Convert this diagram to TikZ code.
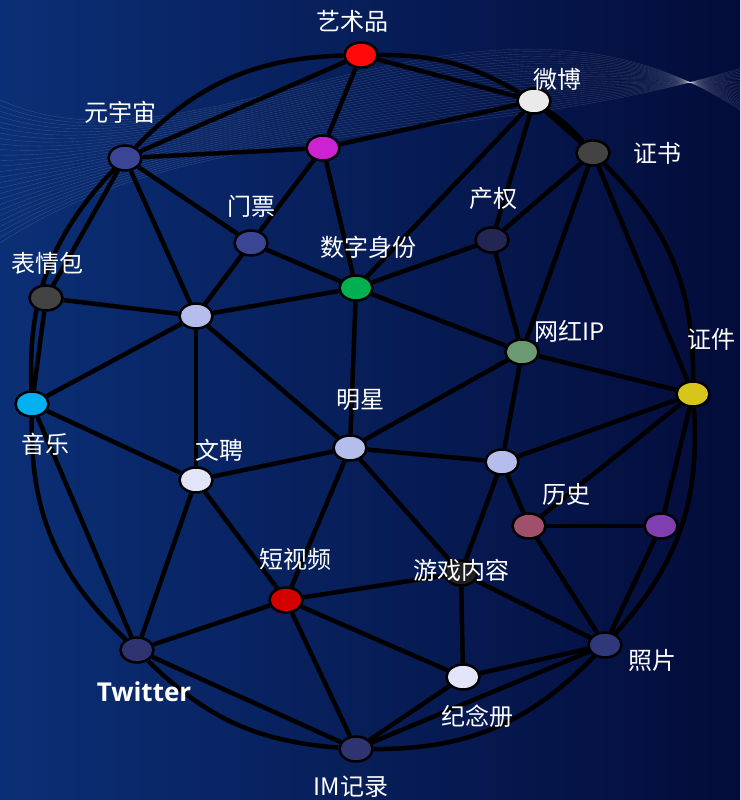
\documentclass[tikz,border=0pt]{standalone}
\usepackage{fontspec}
\usepackage{tikz}
\usetikzlibrary{shapes.geometric}
\setmainfont{Noto Sans CJK SC}
\newfontfamily\twfont{Open Sans}
\definecolor{bgleft}{HTML}{0B2F76}
\definecolor{bgright}{HTML}{030C3A}
\definecolor{artred}{HTML}{FF0A0A}
\definecolor{weibowhite}{HTML}{EAEAEA}
\definecolor{darkgray}{HTML}{434343}
\definecolor{metablue}{HTML}{3B4596}
\definecolor{magenta}{HTML}{CC22D2}
\definecolor{propnavy}{HTML}{232552}
\definecolor{idgreen}{HTML}{00B050}
\definecolor{lavender}{HTML}{B4BDEB}
\definecolor{ipgreen}{HTML}{6B9A72}
\definecolor{cardyellow}{HTML}{D6C51A}
\definecolor{musiccyan}{HTML}{00B0F0}
\definecolor{paleblue}{HTML}{E2E5F8}
\definecolor{histrose}{HTML}{A0506A}
\definecolor{violet}{HTML}{7F3FB0}
\definecolor{gameblack}{HTML}{1F1F23}
\definecolor{shortred}{HTML}{D20000}
\definecolor{photonavy}{HTML}{2F3878}
\definecolor{imnavy}{HTML}{2E3470}
\pgfdeclarelayer{bg}
\pgfdeclarelayer{edges}
\pgfsetlayers{bg,edges,main}

\begin{document}
\begin{tikzpicture}[x=1pt, y=1pt,
  dot/.style={ellipse, draw=black, line width=2.5pt, minimum width=33pt, minimum height=25pt, inner sep=0pt},
  link/.style={black, line width=4.5pt},
  lbl/.style={text=white, inner sep=0pt, font=\fontsize{24}{24}\selectfont},
  wave/.style={white, opacity=0.16, line width=0.4pt}]
\useasboundingbox (0,0) rectangle (740,800);
\begin{pgfonlayer}{bg}
\shade[left color=bgleft, right color=bgright] (0,0) rectangle (740,800);
\begin{scope}
\clip (0,0) rectangle (740,800);
\foreach \i in {0,...,26}
  \draw[wave] (0,{700-5.5*\i}) .. controls (200,{610+3*\i}) and (480,{860-8*\i}) .. (740,{690+1.6*\i});
\end{scope}
\end{pgfonlayer}

% nodes
\node[dot, fill=artred] (art) at (361,745) {};
\node[dot, fill=weibowhite] (weibo) at (534,699) {};
\node[dot, fill=darkgray] (cert) at (593,647) {};
\node[dot, fill=metablue] (meta) at (125,642) {};
\node[dot, fill=magenta] (mag) at (323,652) {};
\node[dot, fill=metablue] (ticket) at (251,557) {};
\node[dot, fill=propnavy] (prop) at (492,560) {};
\node[dot, fill=idgreen] (digid) at (356,512) {};
\node[dot, fill=darkgray] (emoji) at (46,502) {};
\node[dot, fill=lavender] (lavA) at (196,484) {};
\node[dot, fill=ipgreen] (ip) at (522,448) {};
\node[dot, fill=cardyellow] (idcard) at (693,406) {};
\node[dot, fill=musiccyan] (music) at (32,396) {};
\node[dot, fill=lavender] (star) at (350,352) {};
\node[dot, fill=paleblue] (wenpin) at (196,320) {};
\node[dot, fill=lavender] (lavB) at (502,338) {};
\node[dot, fill=histrose] (history) at (529,274) {};
\node[dot, fill=violet] (purple) at (661,274) {};
\node[dot, fill=gameblack] (game) at (461,227) {};
\node[dot, fill=shortred] (short) at (286,200) {};
\node[dot, fill=photonavy] (photo) at (605,155) {};
\node[dot, fill=imnavy] (twitter) at (137,150) {};
\node[dot, fill=paleblue] (album) at (463,123) {};
\node[dot, fill=imnavy] (im) at (356,51) {};

% edges
\begin{pgfonlayer}{edges}
\draw[link] (meta) to[bend left=22] (art);
\draw[link] (art) to[bend left=15] (weibo);
\draw[link] (weibo) to[bend left=7] (cert);
\draw[link] (cert) to[bend left=23] (idcard);
\draw[link] (idcard) to[bend left=23] (photo);
\draw[link] (photo) to[bend left=23] (im);
\draw[link] (im) to[bend left=20] (twitter);
\draw[link] (twitter) to[bend left=24] (music);
\draw[link] (music) to[bend left=23] (meta);
\foreach \a/\b in {meta/art, art/weibo, weibo/cert, cert/idcard, idcard/purple,
    purple/photo, photo/im, im/twitter, twitter/music, music/emoji, emoji/meta,
    meta/mag, meta/lavA, meta/ticket, art/mag, mag/weibo, mag/ticket, mag/digid,
    weibo/digid, weibo/prop, cert/prop, cert/ip, prop/digid, prop/ip,
    ticket/digid, ticket/lavA, digid/lavA, digid/ip, digid/star, emoji/lavA,
    lavA/music, lavA/wenpin, lavA/star, ip/idcard, ip/star, ip/lavB,
    music/wenpin, star/wenpin, star/lavB, star/short, star/game, lavB/idcard,
    lavB/history, lavB/game, history/idcard, history/purple, history/photo,
    wenpin/twitter, wenpin/short, short/twitter, short/game, short/album,
    short/im, game/album, game/photo, album/im, album/photo}
  \draw[link] (\a) -- (\b);
\end{pgfonlayer}

% labels
\node[lbl] (art-l) at (352,779) {艺术品};
\node[lbl] (weibo-l) at (557,721) {微博};
\node[lbl] (cert-l) at (657,647) {证书};
\node[lbl] (meta-l) at (120,688) {元宇宙};
\node[lbl] (ticket-l) at (251,594) {门票};
\node[lbl] (prop-l) at (493,602) {产权};
\node[lbl] (digid-l) at (368,553) {数字身份};
\node[lbl] (emoji-l) at (48,537) {表情包};
\node[lbl] (ip-l) at (570,469) {网红IP};
\node[lbl] (idcard-l) at (711,461) {证件};
\node[lbl] (music-l) at (45,356) {音乐};
\node[lbl] (star-l) at (360,400) {明星};
\node[lbl] (wenpin-l) at (219,350) {文聘};
\node[lbl] (history-l) at (566,306) {历史};
\node[lbl] (short-l) at (295,241) {短视频};
\node[lbl] (game-l) at (461,230) {游戏内容};
\node[lbl] (photo-l) at (652,140) {照片};
\node[lbl, font=\twfont\bfseries\fontsize{26}{26}\selectfont] (twitter-l) at (144,108) {Twitter};
\node[lbl] (album-l) at (477,84) {纪念册};
\node[lbl] (im-l) at (351,13) {IM记录};
\end{tikzpicture}
\end{document}
